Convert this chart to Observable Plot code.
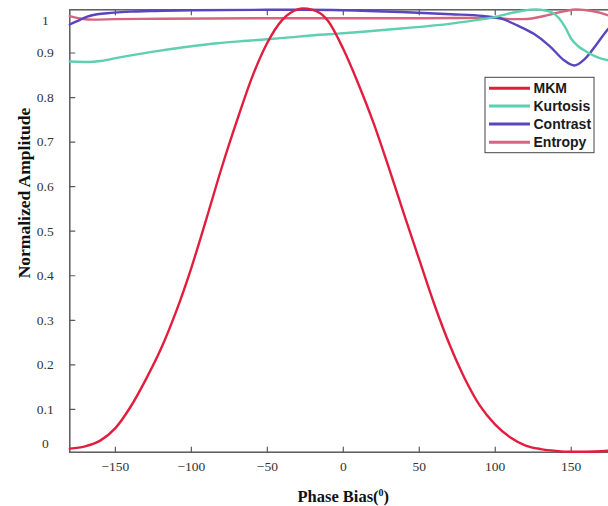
<!DOCTYPE html>
<html><head><meta charset="utf-8">
<script src="https://cdn.jsdelivr.net/npm/d3@7"></script>
<script src="https://cdn.jsdelivr.net/npm/@observablehq/plot@0.6"></script>
<style>html,body{margin:0;padding:0;overflow:hidden;background:#fff} svg{max-width:none !important}</style>
</head><body><div id="chart"></div>
<script>
const seriesNames = ["MKM", "Kurtosis", "Contrast", "Entropy"];
const seriesColors = ["#e31d3e", "#5ecfb0", "#5a44bf", "#d6657f"];

const xTicks = [-150, -100, -50, 0, 50, 100, 150];
const yTicks = [0.1, 0.2, 0.3, 0.4, 0.5, 0.6, 0.7, 0.8, 0.9];

const mkmPhase = [-180,-170,-160,-150,-140,-130,-120,-110,-100,-90,-80,-70,-60,-50,-40,-30,-27,-20,-10,0,10,20,30,40,50,60,70,80,90,100,110,120,130,140,150,160,170,180];
const mkmAmp   = [0.012,0.017,0.030,0.058,0.106,0.167,0.236,0.320,0.418,0.529,0.643,0.748,0.846,0.923,0.975,0.998,1.000,0.997,0.972,0.909,0.830,0.742,0.642,0.538,0.436,0.335,0.245,0.169,0.108,0.066,0.037,0.019,0.011,0.007,0.005,0.005,0.006,0.009];

const kurtPhase = [-180,-168,-160,-149,-127,-105,-83,-61,-39,-15,-6,38,71,92,99,108,118,127,132,138,142,146,150,155,160,167,175,180];
const kurtAmp   = [0.881,0.880,0.882,0.889,0.902,0.913,0.922,0.928,0.934,0.941,0.943,0.955,0.966,0.976,0.980,0.988,0.995,0.998,0.996,0.990,0.978,0.958,0.932,0.914,0.903,0.891,0.883,0.880];

const contPhase = [-180,-173,-169,-162,-153,-140,-127,-100,-50,-28,0,38,71,92,104,114.5,125.4,136,145.5,152,159,167,174.6,180];
const contAmp   = [0.964,0.975,0.981,0.987,0.990,0.993,0.994,0.996,0.997,0.997,0.996,0.992,0.987,0.983,0.977,0.962,0.943,0.915,0.883,0.872,0.887,0.921,0.955,0.972];

const entPhase = [-180,-172,-165,-150,-120,-50,50,100,110,118,125,132,138,146,153,160,167,175,180];
const entAmp   = [0.983,0.977,0.975,0.976,0.977,0.978,0.978,0.979,0.976,0.976,0.978,0.983,0.988,0.994,0.998,0.996,0.992,0.984,0.979];

const toRows = (name, xs, ys) => xs.map((x, i) => ({series: name, phase: x, amp: ys[i]}));
const mkm = toRows("MKM", mkmPhase, mkmAmp);
const kurt = toRows("Kurtosis", kurtPhase, kurtAmp);
const cont = toRows("Contrast", contPhase, contAmp);
const ent = toRows("Entropy", entPhase, entAmp);

const axisColor = "#5a5a5a";
const labelColor = "#333";
const tickOpts = {length: 5, shape: "spike", r: 0, anchor: "start", stroke: axisColor, fill: "none", strokeWidth: 1.2};
const lineOpts = {x: "phase", y: "amp", stroke: "series", strokeWidth: 2.4, curve: "monotone-x"};
const xTitle = "Phase Bias(\u2070)";

const plot = Plot.plot({
  width: 620, height: 506,
  marginLeft: 69.3, marginRight: 3.7, marginTop: 9.3, marginBottom: 54.3,
  x: {domain: [-180, 180], axis: null},
  y: {domain: [0.004, 0.997], axis: null},
  color: {domain: seriesNames, range: seriesColors},
  style: {fontFamily: "'Liberation Serif', 'Times New Roman', serif", background: "#fff", maxWidth: "none", overflow: "visible"},
  marks: [
    Plot.frame({stroke: axisColor, strokeWidth: 1.5}),
    Plot.vector(xTicks, {x: d => d, frameAnchor: "bottom", rotate: 0, ...tickOpts}),
    Plot.vector(xTicks, {x: d => d, frameAnchor: "top", rotate: 180, ...tickOpts}),
    Plot.vector(yTicks, {y: d => d, frameAnchor: "left", rotate: 90, ...tickOpts}),
    Plot.vector(yTicks, {y: d => d, frameAnchor: "right", rotate: -90, ...tickOpts}),
    Plot.text(xTicks, {x: d => d, frameAnchor: "bottom", dy: 19, text: d => d < 0 ? "\u2212" + (-d) : String(d), fontSize: 13.5, fill: labelColor}),
    Plot.text(yTicks, {y: d => d, frameAnchor: "left", dx: -24.5, textAnchor: "middle", text: d => d.toFixed(1), fontSize: 13.5, fill: labelColor}),
    Plot.text([1], {y: d => d, frameAnchor: "left", dx: -24.5, dy: 12, textAnchor: "middle", text: d => String(d), fontSize: 13.5, fill: labelColor}),
    Plot.text([0], {y: d => d, frameAnchor: "left", dx: -24.5, dy: -10.5, textAnchor: "middle", text: d => String(d), fontSize: 13.5, fill: labelColor}),
    Plot.text([xTitle], {frameAnchor: "bottom", dy: 50, text: d => d, fontWeight: "bold", fontSize: 16.5, fill: "#111"}),
    Plot.text(["Normalized Amplitude"], {frameAnchor: "left", dx: -45, dy: -38, rotate: -90, textAnchor: "middle", text: d => d, fontWeight: "bold", fontSize: 17.5, fill: "#111"}),
    Plot.line(ent, lineOpts),
    Plot.line(cont, lineOpts),
    Plot.line(kurt, lineOpts),
    Plot.line(mkm, lineOpts)
  ]
});

const svg = d3.select(plot);
// superscript degree marker in x title
svg.selectAll("text").filter(function() { return this.textContent === xTitle; }).each(function() {
  const t = d3.select(this);
  t.text("Phase Bias(");
  t.append("tspan").attr("font-size", 10).attr("dy", -6).text("0");
  t.append("tspan").attr("dy", 6).text(")");
});

// Legend (boxed)
const lg = svg.append("g").attr("font-family", "'Liberation Sans', Arial, sans-serif").attr("text-anchor", "start");
lg.append("rect").attr("x", 485).attr("y", 77.3).attr("width", 109).attr("height", 75.4)
  .attr("fill", "#fff").attr("stroke", "#444").attr("stroke-width", 1);
const legendY = [88.3, 106, 124, 142.3];
seriesNames.forEach((name, i) => {
  lg.append("line").attr("x1", 489).attr("x2", 530).attr("y1", legendY[i]).attr("y2", legendY[i])
    .attr("stroke", seriesColors[i]).attr("stroke-width", 3);
  lg.append("text").attr("x", 533.5).attr("y", legendY[i] + 5).text(name)
    .attr("font-size", 14).attr("font-weight", "bold").attr("fill", "#1a1a1a");
});

document.getElementById("chart").appendChild(plot);
</script>
</body></html>
